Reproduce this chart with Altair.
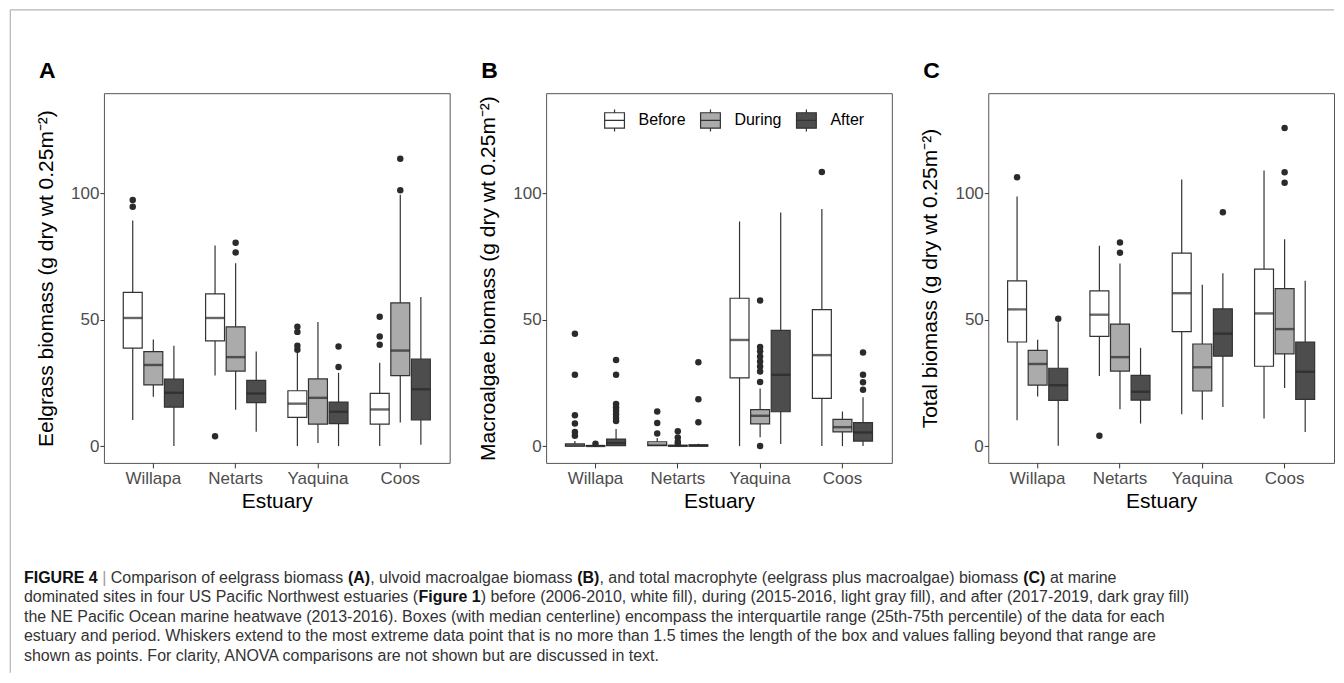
import altair as alt
import pandas as pd

ESTUARIES = ["Willapa", "Netarts", "Yaquina", "Coos"]
PERIODS = ["Before", "During", "After"]
FILLS = ["#ffffff", "#ababab", "#4d4d4d"]

# ---------- Panel A: eelgrass (order: estuary, then period) ----------
A_LOW  = [10.3, 19.5, 0.0,  27.9, 14.4, 5.7,  0.0, 1.2, 0.0,  0.0, 9.3, 0.5]
A_Q1   = [38.8, 24.2, 15.4, 41.6, 29.7, 17.2, 11.4, 8.7, 8.9,  8.7, 27.9, 10.4]
A_MED  = [50.7, 32.1, 21.1, 50.7, 35.2, 20.8, 16.8, 19.1, 13.6, 14.5, 37.8, 22.5]
A_Q3   = [60.8, 37.4, 26.5, 60.2, 47.2, 26.0, 21.9, 26.6, 17.4, 20.9, 56.7, 34.4]
A_HIGH = [89.3, 42.2, 39.7, 79.4, 72.4, 37.4, 37.1, 49.1, 29.0, 33.0, 99.5, 59.0]
A_OUT_EST = ["Willapa", "Willapa", "Netarts", "Netarts", "Netarts",
             "Yaquina", "Yaquina", "Yaquina", "Yaquina", "Yaquina", "Yaquina",
             "Coos", "Coos", "Coos", "Coos", "Coos"]
A_OUT_PER = ["Before", "Before", "Before", "During", "During",
             "Before", "Before", "Before", "Before", "After", "After",
             "Before", "Before", "Before", "During", "During"]
A_OUT_VAL = [97.4, 94.7, 3.9, 80.5, 76.6,
             47.2, 45.2, 39.7, 38.1, 39.4, 31.3,
             51.2, 43.4, 40.1, 113.7, 101.2]

# ---------- Panel B: macroalgae ----------
B_LOW  = [0.0, 0.0, 0.0,  0.0, 0.0, 0.0,  0.0, 3.5, 0.8,  0.0, 0.0, 0.0]
B_Q1   = [0.0, 0.0, 0.2,  0.2, 0.0, 0.0,  27.0, 8.8, 13.6,  18.9, 5.6, 2.0]
B_MED  = [0.3, 0.05, 1.2, 0.6, 0.1, 0.2,  42.0, 12.0, 28.2, 36.0, 7.5, 5.4]
B_Q3   = [0.9, 0.2, 2.8,  1.7, 0.3, 0.5,  58.5, 14.4, 45.8, 54.0, 10.6, 9.3]
B_HIGH = [2.0, 0.4, 6.8,  3.2, 0.6, 0.9,  88.9, 22.8, 92.4, 93.8, 13.7, 19.3]
B_OUT_EST = (["Willapa"] * 6 + ["Willapa"] + ["Willapa"] * 8 + ["Netarts"] * 3
             + ["Netarts"] * 4 + ["Netarts"] * 3 + ["Yaquina"] * 9 + ["Coos"] + ["Coos"] * 4)
B_OUT_PER = (["Before"] * 6 + ["During"] + ["After"] * 8 + ["Before"] * 3
             + ["During"] * 4 + ["After"] * 3 + ["During"] * 9 + ["Before"] + ["After"] * 4)
B_OUT_VAL = [44.5, 28.2, 12.2, 8.9, 5.6, 4.1,
             0.9,
             34.1, 28.2, 16.7, 15.3, 14.0, 12.6, 11.2, 9.9,
             13.7, 9.1, 5.0,
             5.9, 3.4, 1.7, 0.9,
             33.2, 18.5, 9.4,
             57.6, 39.2, 37.5, 35.5, 33.5, 31.5, 29.5, 25.4, 0.0,
             108.5,
             37.0, 28.2, 25.3, 22.3]

# ---------- Panel C: total biomass ----------
C_LOW  = [10.2, 19.6, 0.1,  27.7, 14.6, 8.9,  12.6, 10.4, 15.5,  10.9, 23.0, 5.6]
C_Q1   = [41.2, 24.1, 18.1, 43.4, 29.7, 18.2, 45.3, 21.8, 35.6,  31.6, 36.5, 18.5]
C_MED  = [54.1, 32.5, 24.1, 52.0, 35.2, 21.5, 60.5, 31.2, 44.5,  52.5, 46.3, 29.4]
C_Q3   = [65.4, 37.9, 30.8, 61.4, 48.3, 28.0, 76.4, 40.4, 54.3,  70.0, 62.3, 41.2]
C_HIGH = [98.8, 42.1, 49.0, 79.3, 72.3, 38.9, 105.5, 63.8, 68.4, 109.1, 81.9, 65.4]
C_OUT_EST = ["Willapa", "Willapa", "Netarts", "Netarts", "Netarts", "Yaquina",
             "Coos", "Coos", "Coos"]
C_OUT_PER = ["Before", "After", "Before", "During", "During", "After",
             "During", "During", "During"]
C_OUT_VAL = [106.4, 50.4, 4.1, 80.6, 76.5, 92.5, 125.9, 108.4, 104.2]

CAPTION_LINES = [
    [("FIGURE 4", True), (" ", False), ("|", None), (" Comparison of eelgrass biomass ", False),
     ("(A)", True), (", ulvoid macroalgae biomass ", False), ("(B)", True),
     (", and total macrophyte (eelgrass plus macroalgae) biomass ", False), ("(C)", True),
     (" at marine", False)],
    [("dominated sites in four US Pacific Northwest estuaries (", False), ("Figure 1", True),
     (") before (2006-2010, white fill), during (2015-2016, light gray fill), and after (2017-2019, dark gray fill)", False)],
    [("the NE Pacific Ocean marine heatwave (2013-2016). Boxes (with median centerline) encompass the interquartile range (25th-75th percentile) of the data for each", False)],
    [("estuary and period. Whiskers extend to the most extreme data point that is no more than 1.5 times the length of the box and values falling beyond that range are", False)],
    [("shown as points. For clarity, ANOVA comparisons are not shown but are discussed in text.", False)],
]

FONT = "Liberation Sans"

# Arial / Liberation Sans advance widths (1/1000 em) for caption layout
_REG = dict(zip(
    " !\"#$%&'()*+,-./0123456789:;<=>?@ABCDEFGHIJKLMNOPQRSTUVWXYZ[\\]^_`abcdefghijklmnopqrstuvwxyz|",
    [278, 278, 355, 556, 556, 889, 667, 191, 333, 333, 389, 584, 278, 333, 278, 278,
     556, 556, 556, 556, 556, 556, 556, 556, 556, 556, 278, 278, 584, 584, 584, 556, 1015,
     667, 667, 722, 722, 667, 611, 778, 722, 278, 500, 667, 556, 833, 722, 778, 667, 778,
     722, 667, 611, 722, 667, 944, 667, 667, 611, 278, 278, 278, 469, 556, 333,
     556, 556, 500, 556, 556, 278, 556, 556, 222, 222, 500, 222, 833, 556, 556, 556, 556,
     333, 500, 278, 556, 500, 722, 500, 500, 500, 260]))
_BOLD = {" ": 278, "(": 333, ")": 333, "1": 556, "4": 556, "A": 722, "B": 722, "C": 722,
         "E": 667, "F": 611, "G": 778, "I": 278, "R": 722, "U": 722, "e": 556, "g": 611,
         "i": 278, "r": 389, "u": 611}


def tw(s, bold, size):
    table = _BOLD if bold else _REG
    return sum(table.get(ch, 556) for ch in s) * size / 1000.0


BOX_PATH = "M-0.9,-0.7H0.9V0.7H-0.9Z M0,-0.7V-1 M0,0.7V1 M-0.9,0H0.9"


def one_row():
    return pd.DataFrame({"k": [0]})


def text(t, x, y, size, weight="normal", color="#333333", font=FONT):
    return alt.Chart(pd.DataFrame({"t": [t]})).mark_text(
        align="left", baseline="alphabetic", fontSize=size, fontWeight=weight,
        font=font, color=color
    ).encode(text="t:N", x=alt.value(x), y=alt.value(y))


def caption_layers(x0, y0, size, lead):
    layers = []
    for i, segs in enumerate(CAPTION_LINES):
        pos = x0
        y = y0 + i * lead
        for seg, bold in segs:
            b = bool(bold)
            stripped = seg.strip()
            lead_ws = len(seg) - len(seg.lstrip())
            if stripped:
                x = pos + tw(seg[:lead_ws], b, size)
                if bold is None:
                    color = "#9a9a9a"
                elif b:
                    color = "#111111"
                else:
                    color = "#333333"
                layers.append(text(stripped, round(x, 2), y, size,
                                   "bold" if b else "normal", color))
            pos += tw(seg, b, size)
    return layers


def panel(low, q1, med, q3, high, oe, op, ov, ytitle, letter, extra=()):
    stats = pd.DataFrame({
        "estuary": [e for e in ESTUARIES for _ in PERIODS],
        "period": [p for _ in ESTUARIES for p in PERIODS],
        "low": low, "q1": q1, "med": med, "q3": q3, "high": high,
    })
    outs = pd.DataFrame({"estuary": oe, "period": op, "value": ov})

    xenc = alt.X("estuary:N", sort=ESTUARIES, title="Estuary",
                 scale=alt.Scale(domain=ESTUARIES, paddingInner=0.25, paddingOuter=0.225),
                 axis=alt.Axis(labelAngle=0, tickSize=5, labelPadding=3, titlePadding=4))
    xo = alt.XOffset("period:N", sort=PERIODS,
                     scale=alt.Scale(domain=PERIODS, paddingInner=0.08, paddingOuter=0.04))
    ysc = alt.Scale(domain=[-6.65, 139.65], nice=False, zero=False)
    yax = alt.Axis(values=[0, 50, 100], tickSize=4, labelPadding=1, titlePadding=14)

    def Y(field):
        return alt.Y(field, scale=ysc, axis=yax, title=ytitle)

    whisk = alt.Chart(stats).mark_rule(color="#333333", strokeWidth=1.2).encode(
        x=xenc, xOffset=xo, y=Y("low:Q"), y2="high:Q")
    box = alt.Chart(stats).mark_bar(stroke="#333333", strokeWidth=1.2).encode(
        x=xenc, xOffset=xo, y=Y("q1:Q"), y2="q3:Q",
        fill=alt.Fill("period:N", sort=PERIODS,
                      scale=alt.Scale(domain=PERIODS, range=FILLS),
                      legend=alt.Legend(title=None, orient="none", legendX=499, legendY=15,
                                        direction="horizontal", symbolType=BOX_PATH,
                                        symbolSize=484, symbolStrokeColor="#333333",
                                        symbolStrokeWidth=1.2, labelFontSize=16,
                                        labelFont=FONT, labelColor="#000000",
                                        labelOffset=12, columnPadding=11, padding=0)))
    medl = alt.Chart(stats).mark_tick(color="#262626", thickness=2.4, size=19).encode(
        x=xenc, xOffset=xo, y=Y("med:Q"))
    pts = alt.Chart(outs).mark_circle(size=42, color="#2b2b2b", opacity=1).encode(
        x=xenc, xOffset=xo, y=Y("value:Q"))
    lab = text(letter, -65, -15.5, 23, weight="bold", color="#000000")
    return alt.layer(whisk, box, medl, pts, lab, *extra).properties(width=346, height=370)


SUP = "0.25m\u207b\u00b2)"

# figure frame and caption, placed relative to panel A's plot origin
frame = [
    alt.Chart(one_row()).mark_rule(color="#b5b5b5", strokeWidth=1.2).encode(
        x=alt.value(-93.7), x2=alt.value(1231), y=alt.value(-83.3)),
    alt.Chart(one_row()).mark_rule(color="#b5b5b5", strokeWidth=1.2).encode(
        x=alt.value(-93.7), y=alt.value(-83.3), y2=alt.value(580)),
]
caption = caption_layers(-80, 490, 16, 19.5)

pA = panel(A_LOW, A_Q1, A_MED, A_Q3, A_HIGH, A_OUT_EST, A_OUT_PER, A_OUT_VAL,
           "Eelgrass biomass (g dry wt " + SUP, "A", extra=frame + caption)
pB = panel(B_LOW, B_Q1, B_MED, B_Q3, B_HIGH, B_OUT_EST, B_OUT_PER, B_OUT_VAL,
           "Macroalgae biomass (g dry wt " + SUP, "B")
pC = panel(C_LOW, C_Q1, C_MED, C_Q3, C_HIGH, C_OUT_EST, C_OUT_PER, C_OUT_VAL,
           "Total biomass (g dry wt " + SUP, "C")

chart = alt.hconcat(pA, pB, pC, spacing=96.5, bounds="flush").properties(
    padding={"left": 1, "top": 0, "right": 0, "bottom": 0}
).configure_view(
    stroke="#555555", strokeWidth=1
).configure_axis(
    grid=False, domain=False, tickColor="#333333", tickWidth=1,
    labelFont=FONT, labelFontSize=17, labelColor="#4d4d4d",
    titleFont=FONT, titleFontSize=21, titleFontWeight="normal", titleColor="#000000"
)

chart.save("out.html", embed_options={"renderer": "svg", "actions": False})
